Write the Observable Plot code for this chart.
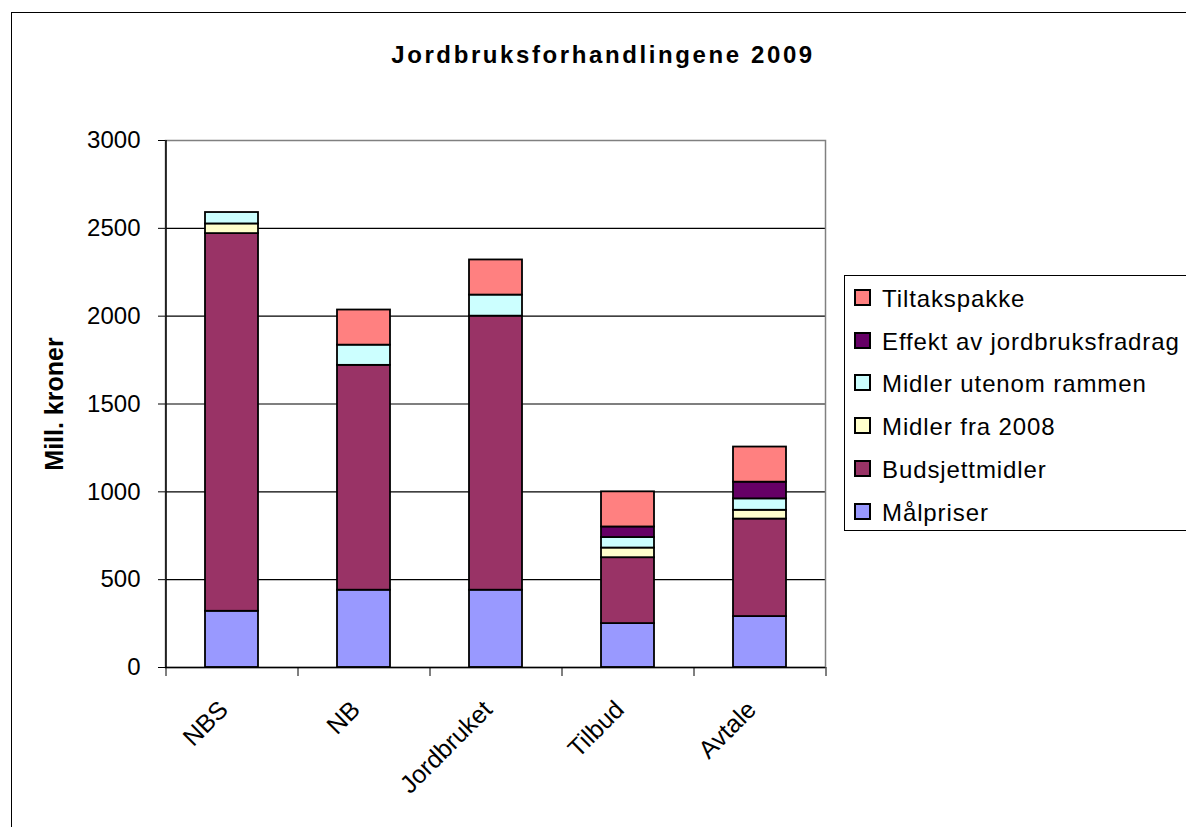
<!DOCTYPE html>
<html><head><meta charset="utf-8">
<script src="https://cdn.jsdelivr.net/npm/d3@7"></script>
<script src="https://cdn.jsdelivr.net/npm/@observablehq/plot@0.6"></script>
<style>
body{margin:0;background:#fff;font-family:"Liberation Sans",Arial,sans-serif;}
#wrap{position:relative;width:1186px;height:827px;overflow:hidden;}
#border{position:absolute;left:11px;top:12px;width:1200px;height:900px;border:1.5px solid #000;box-sizing:border-box;}
#title{position:absolute;left:20px;width:1166px;top:41px;text-align:center;font-weight:bold;font-size:24px;letter-spacing:2.6px;}
#chart{position:absolute;left:0;top:0;}
#legend{position:absolute;left:844px;top:275px;width:360px;height:256px;border:1.5px solid #000;box-sizing:border-box;background:#fff;}
.li{position:absolute;left:9px;height:28px;font-size:24px;line-height:28px;white-space:nowrap;letter-spacing:0.9px;}
.sw{display:inline-block;width:13px;height:13px;border:2px solid #000;margin-right:11px;vertical-align:1px;}
</style></head>
<body><div id="wrap"><div id="border"></div><div id="chart"></div><div id="title">Jordbruksforhandlingene 2009</div><div id="legend"></div></div>
<script>
const categories = ["NBS","NB","Jordbruket","Tilbud","Avtale"];
const seriesNames = ["Målpriser","Budsjettmidler","Midler fra 2008","Midler utenom rammen","Effekt av jordbruksfradrag","Tiltakspakke"];
const seriesColors = ["#9999FF","#993366","#FFFFCC","#CCFFFF","#660066","#FF8080"];
const malpriser = [320, 440, 440, 250, 290];
const budsjettmidler = [2150, 1280, 1560, 375, 555];
const midlerFra2008 = [55, 0, 0, 55, 50];
const midlerUtenom = [65, 115, 120, 60, 65];
const effekt = [0, 0, 0, 60, 95];
const tiltakspakke = [0, 200, 200, 200, 200];
const yTicks = [0,500,1000,1500,2000,2500,3000];

const seriesValues = [malpriser, budsjettmidler, midlerFra2008, midlerUtenom, effekt, tiltakspakke];
const data = [];
seriesNames.forEach((s,i)=>categories.forEach((c,j)=>{ if(seriesValues[i][j]>0) data.push({cat:c, series:s, value:seriesValues[i][j]}); }));

const plot = Plot.plot({
  width:1186, height:827,
  marginLeft:165, marginRight:361, marginTop:140, marginBottom:160,
  style:{fontFamily:"Liberation Sans, Arial, sans-serif", fontSize:"24px", background:"transparent", color:"#000"},
  x:{domain:categories, paddingInner:0.6, paddingOuter:0.3, label:null},
  y:{domain:[0,3000], label:null},
  color:{domain:seriesNames, range:seriesColors},
  marks:[
    Plot.gridY(yTicks,{stroke:"#000", strokeOpacity:1, strokeWidth:1.2}),
    Plot.frame({stroke:"#808080", strokeWidth:1.5}),
    Plot.barY(data,{x:"cat", y:"value", fill:"series", stroke:"#000", strokeWidth:1.8}),
    Plot.axisY({ticks:yTicks, tickSize:7, tickPadding:18, tickFormat:d=>String(d), fontSize:24, label:null, stroke:"#000", fill:"#000"}),
    Plot.ruleX([categories[0]],{dx:-66, stroke:"#000", strokeWidth:1.5}),
    Plot.ruleY([0],{stroke:"#000", strokeWidth:1.5}),
    Plot.axisX({tickSize:0, tickRotate:-45, fontSize:25, tickPadding:38, dx:-8, label:null, fill:"#000"}),
    Plot.axisX({tickSize:9, text:null, dx:66, label:null, stroke:"#000"}),
    Plot.axisX([categories[0]],{tickSize:9, text:null, dx:-66, label:null, stroke:"#000"}),
    Plot.text(["Mill. kroner"],{frameAnchor:"left", textAnchor:"middle", dx:-111, dy:0, rotate:-90, fontWeight:"bold", fontSize:25, fill:"#000", style:"letter-spacing:0.6px"})
  ]
});
document.getElementById("chart").appendChild(plot);

const legend = document.getElementById("legend");
[...seriesNames].reverse().forEach((s,k)=>{
  const i = seriesNames.length-1-k;
  const d = document.createElement("div");
  d.className="li"; d.style.top=(9+k*42.7)+"px";
  d.innerHTML=`<span class="sw" style="background:${seriesColors[i]}"></span>${s}`;
  legend.appendChild(d);
});
</script></body></html>
